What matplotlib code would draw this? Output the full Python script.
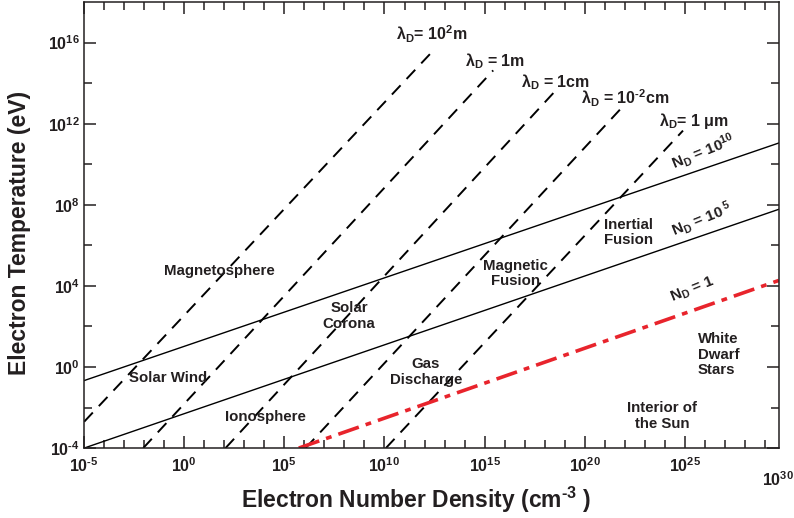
import numpy as np
import matplotlib
matplotlib.use("Agg")
import matplotlib.pyplot as plt
from matplotlib.ticker import NullFormatter

plt.rcParams['font.family'] = ['Liberation Sans', 'DejaVu Sans']
plt.rcParams['font.weight'] = 'bold'
plt.rcParams['axes.labelweight'] = 'bold'
plt.rcParams['mathtext.fontset'] = 'custom'
plt.rcParams['mathtext.rm'] = 'Liberation Sans:bold'
plt.rcParams['mathtext.it'] = 'Liberation Sans:bold'
plt.rcParams['mathtext.bf'] = 'Liberation Sans:bold'
plt.rcParams['mathtext.default'] = 'rm'

ink = '#231f20'

# Debye length lines (log10 n [cm^-3], log10 T [eV])
debye_labels = [r'$\lambda_D$= 10$^2$m', r'$\lambda_D$ = 1m', r'$\lambda_D$ = 1cm',
                r'$\lambda_D$ = 10$^{\text{-}2}$cm', r'$\lambda_D$= 1 $\mu$m']
debye_start_logn = [-5.0, -2.05, 2.06, 6.06, 10.07]
debye_start_logT = [-2.70, -4.0, -4.0, -4.0, -4.0]
debye_end_logn = [12.40, 15.43, 18.60, 21.84, 24.91]
debye_end_logT = [15.57, 14.63, 13.69, 12.78, 11.66]

# plasma parameter lines
nd_labels = [r'N$_D$ = 10$^{10}$', r'N$_D$ = 10$^{\ 5}$', r'N$_D$ = 1']
nd_start_logn = [-5.0, -5.0, 5.72]
nd_start_logT = [-0.67, -4.0, -4.0]
nd_end_logn = [29.7, 29.7, 29.7]
nd_end_logT = [11.05, 7.78, 4.27]

regions = ['Magnetosphere', 'Solar Wind', 'Solar\nCorona', 'Ionosphere', 'Gas\nDischarge',
           'Magnetic\nFusion', 'Inertial\nFusion', 'White\nDwarf\nStars', 'Interior of\nthe Sun']

x_major = [1e-5, 1e0, 1e5, 1e10, 1e15, 1e20, 1e25]
x_major_labels = [r'$10^{\text{-}5}$', r'$10^{0}$', r'$10^{5}$', r'$10^{10}$', r'$10^{15}$',
                  r'$10^{20}$', r'$10^{25}$']
y_major = [1e-4, 1e0, 1e4, 1e8, 1e12, 1e16]
y_major_labels = [r'$10^{\text{-}4}$', r'$10^{0}$', r'$10^{4}$', r'$10^{8}$', r'$10^{12}$',
                  r'$10^{16}$']

# layout: label positions in log coords
debye_label_pos = [(12.36, 16.40), (15.51, 15.11), (18.56, 14.07), (22.01, 13.23), (25.45, 12.14)]
nd_label_pos = [(25.90, 10.60), (25.85, 7.29), (25.40, 3.82)]
region_pos = [(1.73, 4.71), (-0.81, -0.53), (8.23, 2.53), (4.03, -2.47), (12.07, -0.24),
              (16.56, 4.61), (22.21, 6.64), (25.65, 0.60), (23.85, -2.42)]
region_ha = ['center'] * 7 + ['left', 'center']

fig = plt.figure(figsize=(7.94, 5.18), dpi=100)
ax = fig.add_axes([0.106, 0.135, 0.875, 0.861])
ax.set_xscale('log')
ax.set_yscale('log')
ax.set_xlim(1e-5, 10**29.7)
ax.set_ylim(1e-4, 1e18)

for i in range(len(debye_labels)):
    ax.plot([10**debye_start_logn[i], 10**debye_end_logn[i]],
            [10**debye_start_logT[i], 10**debye_end_logT[i]],
            color='black', lw=1.4, dashes=(6.5, 4.5))
    lx, ly = debye_label_pos[i]
    ax.text(10**lx, 10**ly, debye_labels[i], ha='center', va='center', fontsize=11.5, color=ink)

for i in range(2):
    ax.plot([10**nd_start_logn[i], 10**nd_end_logn[i]],
            [10**nd_start_logT[i], 10**nd_end_logT[i]], color='black', lw=1.0)
ax.plot([10**nd_start_logn[2], 10**nd_end_logn[2]],
        [10**nd_start_logT[2], 10**nd_end_logT[2]], color='#e8242c', lw=2.6,
        dashes=(6, 2, 1.6, 2))

for i in range(3):
    lx, ly = nd_label_pos[i]
    ax.text(10**lx, 10**ly, nd_labels[i], ha='center', va='center', fontsize=11,
            rotation=22, color=ink)

for i, r in enumerate(regions):
    lx, ly = region_pos[i]
    ax.text(10**lx, 10**ly, r, ha=region_ha[i], va='center', fontsize=10.8, color=ink,
            linespacing=1.15)

ax.set_xticks(x_major)
ax.set_xticklabels(x_major_labels)
ax.set_xticks([10.0**k for k in range(-5, 30) if k % 5 != 0], minor=True)
ax.xaxis.set_minor_formatter(NullFormatter())
ax.set_yticks(y_major)
ax.set_yticklabels(y_major_labels)
ax.set_yticks([10.0**k for k in range(-2, 18, 4)], minor=True)
ax.yaxis.set_minor_formatter(NullFormatter())
ax.tick_params(which='both', direction='in', top=True, right=True, width=1.1, color=ink,
               labelsize=11.5, labelcolor=ink)
ax.tick_params(which='major', length=8.5)
ax.tick_params(which='minor', length=5.5)
ax.tick_params(axis='x', pad=6)
ax.tick_params(axis='y', pad=3)
ax.text(0.9986, -0.07, r'$10^{30}$', transform=ax.transAxes, ha='center', va='center',
        fontsize=11.5, color=ink)

for s in ax.spines.values():
    s.set_linewidth(1.1)
    s.set_color(ink)

ax.set_xlabel(r'Electron Number Density (cm$^{\text{-}3}$ )', fontsize=16.5, color=ink)
ax.xaxis.set_label_coords(0.4775, -0.117)
ax.xaxis.label.set_va('center')
ax.set_ylabel('Electron Temperature (eV)', fontsize=16.5, color=ink)
ax.yaxis.set_label_coords(-0.0926, 0.482)
ax.yaxis.label.set_va('center')

fig.savefig('out.png', dpi=100)
